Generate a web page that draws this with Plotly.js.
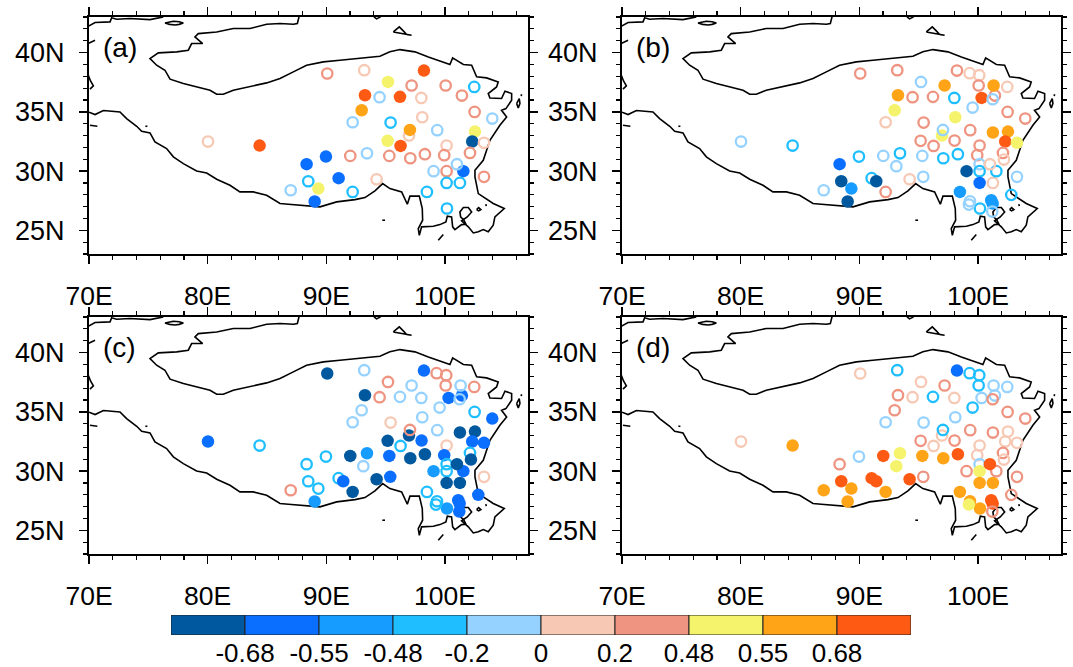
<!DOCTYPE html>
<html>
<head>
<meta charset="utf-8">
<script src="https://cdn.plot.ly/plotly-3.0.1.min.js"></script>
<style>html,body{margin:0;padding:0;background:#fff}</style>
</head>
<body>
<div id="chart" style="width:1073px;height:667px"></div>
<script>
const binEdges = [-0.68,-0.55,-0.48,-0.2,0,0.2,0.48,0.55,0.68];
const binLabels = ['-0.68','-0.55','-0.48','-0.2','0','0.2','0.48','0.55','0.68'];
const binColors = ['#00599E','#0A6EFF','#169CFF','#1EBEFF','#96D2FF','#F7C8B4','#EE9480','#F4F36B','#FFA317','#FF5A14'];

const stationLon = [80.03,84.38,88.34,88.48,87.0,89.33,89.02,89.97,91.04,91.43,92.22,92.02,93.43,93.12,94.24,92.22,92.98,93.26,93.2,90.08,94.49,95.2,96.21,95.42,95.17,95.31,95.39,96.26,96.97,97.05,97.08,97.19,98.01,98.09,98.03,98.31,98.23,99.35,99.04,98.48,99.3,100.11,100.06,100.31,99.55,100.14,99.94,100.14,100.14,100.14,101.26,101.55,101.01,101.43,101.24,101.32,102.47,102.5,103.99,102.53,101.26,102.3,103.29,102.11,102.19,103.29,102.81,100.17,99.33,99.24,101.12,101.24,101.21];
const stationLat = [32.49,32.15,30.58,29.14,28.38,28.52,27.43,31.22,29.4,29.14,28.24,31.28,31.5,30.41,29.31,34.12,35.13,36.4,38.51,38.23,36.23,37.52,36.26,34.09,32.55,31.28,29.51,32.12,33.0,33.47,31.08,37.22,36.17,34.54,32.57,31.42,38.48,33.45,29.99,28.24,38.26,38.09,37.22,36.17,35.36,32.15,31.34,30.58,29.99,29.0,29.0,29.99,30.58,36.37,36.06,37.22,37.1,34.99,34.43,33.33,33.25,32.49,32.38,31.53,30.97,29.51,27.99,26.84,27.45,27.17,27.54,27.26,26.58];

const corrA = [0.1,0.75,-0.6,-0.3,-0.1,0.5,-0.6,-0.6,-0.6,null,-0.3,0.3,-0.1,null,0.1,-0.1,0.6,0.75,0.1,0.3,-0.1,0.5,0.75,-0.3,0.5,0.3,null,0.75,0.1,0.6,0.3,0.3,0.1,0.1,null,0.3,0.75,-0.1,-0.1,-0.3,null,null,0.3,null,null,0.1,0.3,null,0.3,-0.3,-0.3,-0.6,-0.1,0.3,null,null,-0.3,0.3,-0.1,0.5,null,-0.75,0.1,0.3,null,0.3,null,-0.3,null,null,null,null,null];
const corrB = [-0.1,-0.3,-0.6,-0.75,-0.1,-0.5,-0.75,-0.3,-0.3,-0.75,0.3,-0.1,-0.3,-0.1,0.1,0.1,0.5,0.6,0.3,0.3,0.3,-0.1,0.3,0.3,0.3,-0.1,-0.1,0.3,0.5,-0.1,-0.3,0.6,-0.3,0.5,0.3,-0.3,0.3,0.3,-0.75,-0.5,0.1,0.1,0.3,0.75,-0.1,0.3,0.3,-0.1,-0.3,-0.6,0.1,-0.3,0.1,0.3,-0.1,0.6,0.1,0.3,0.3,0.6,0.6,0.75,0.5,0.3,0.1,-0.1,-0.3,-0.3,-0.1,-0.1,-0.5,-0.5,-0.1];
const corrC = [-0.6,-0.3,-0.3,-0.3,0.3,-0.3,-0.5,-0.3,-0.3,-0.6,-0.75,-0.75,-0.5,-0.1,-0.75,-0.1,-0.1,-0.75,-0.1,-0.75,0.3,0.3,-0.1,0.1,-0.75,-0.6,-0.6,-0.3,-0.75,0.3,-0.75,-0.1,-0.1,-0.1,-0.6,-0.75,-0.6,-0.1,-0.5,-0.3,0.3,0.3,0.3,-0.6,-0.1,0.1,-0.6,-0.3,-0.3,-0.75,-0.75,-0.6,-0.75,-0.6,-0.1,-0.1,0.3,-0.3,-0.6,-0.75,-0.75,-0.6,-0.6,-0.3,-0.75,0.1,-0.6,-0.5,-0.3,-0.3,-0.6,-0.6,-0.6];
const corrD = [0.1,0.6,0.3,0.75,0.6,0.6,0.6,-0.1,0.75,0.75,0.6,0.75,0.5,0.5,0.75,-0.1,0.3,0.3,-0.3,0.1,0.1,0.1,-0.3,-0.1,0.3,0.6,0.3,0.1,0.1,-0.3,0.6,0.3,0.1,-0.1,0.3,0.75,-0.6,0.3,0.3,0.6,-0.3,-0.3,-0.3,-0.1,-0.3,0.1,0.1,-0.1,0.5,0.6,0.6,0.3,0.75,-0.1,0.3,-0.1,-0.1,0.3,0.3,0.1,0.3,0.1,0.1,0.3,0.1,0.3,0.3,0.6,0.6,0.5,0.75,0.75,0.3];

const coastLon = [70.00,70.51,71.21,71.77,72.61,73.17,74.02,74.44,75.14,75.56,76.54,77.11,77.95,79.07,79.92,80.76,81.88,82.72,83.85,84.97,86.10,86.80,87.78,88.90,89.47,90.87,92.42,93.26,94.10,94.75,95.36,96.35,96.83,97.05,97.84,98.09,98.12,97.75,97.84,98.03,99.02,99.58,100.08,100.20,100.56,100.65,100.84,101.40,101.77,101.60,101.32,101.26,101.55,101.97,102.25,101.88,101.40,101.97,102.39,102.81,103.23,103.65,104.07,104.21,105.00,104.07,102.81,102.53,102.53,103.23,103.79,104.63,105.20,104.77,105.14,105.62,105.62,105.06,104.77,103.79,103.65,104.35,104.49,103.51,102.67,102.25,101.55,100.65,100.42,98.60,97.47,96.21,95.36,94.52,92.84,91.15,89.75,88.34,87.22,86.10,84.97,83.57,82.16,81.32,80.76,80.20,79.35,77.95,76.83,76.40,75.70,75.14,75.84,77.39,78.37,78.65,79.58,78.93,79.21,80.76,82.16,83.57,84.97,86.10,87.22,87.56,87.70,null,
69.94,70.51,71.77,71.91,72.33,73.45,75.14,76.26,null,69.94,70.51,null,69.94,70.14,70.37,70.08,null,76.40,76.80,77.11,77.60,77.95,77.60,77.25,76.80,76.40,null,70.08,70.70,null,74.75,74.92,null,94.02,94.24,94.58,null,95.65,96.15,96.49,96.77,97.19,96.49,95.93,95.65,null,106.04,106.26,106.32,106.18,106.04,null,106.46,106.43,null,102.67,102.84,103.03,102.84,102.67,null,103.45,103.48,null,94.72,94.95,null,99.44,99.64,99.86];
const coastLat = [34.96,34.77,35.11,35.05,34.99,34.43,33.78,33.36,33.22,32.46,31.90,31.20,30.63,30.01,29.84,29.31,28.80,28.24,28.24,27.96,27.26,27.20,27.12,27.03,26.98,27.40,27.59,27.76,28.33,28.94,28.52,28.24,27.20,27.88,27.88,26.84,25.85,25.15,24.58,25.29,25.34,25.48,25.71,26.19,26.13,25.29,25.06,25.48,25.51,25.85,26.13,26.55,26.92,26.92,26.55,26.13,25.79,25.29,24.78,24.87,25.06,24.87,25.43,26.13,26.84,27.26,28.10,29.51,30.07,30.91,32.60,33.87,34.57,35.13,35.27,35.98,36.54,36.74,36.12,36.17,36.54,37.10,37.52,37.86,37.95,38.93,38.99,39.55,38.99,39.63,40.06,40.25,40.06,39.69,39.49,39.35,39.21,38.93,38.37,37.81,37.44,37.16,36.82,36.48,36.48,36.82,37.05,37.38,37.75,38.51,38.93,39.49,39.97,40.06,40.20,40.76,40.76,41.32,41.60,41.74,42.03,42.03,42.39,42.45,42.39,42.45,43.01,null,
42.22,42.53,42.59,42.93,42.81,42.87,42.78,43.01,null,40.76,41.04,null,38.09,37.58,37.19,36.91,null,42.50,42.60,42.64,42.60,42.50,42.38,42.33,42.38,42.50,null,33.87,33.78,null,33.78,33.78,null,43.01,42.84,43.01,null,41.74,42.17,41.83,41.52,41.46,41.60,41.66,41.74,null,35.70,36.12,35.70,35.33,35.70,null,36.48,36.32,null,26.75,26.92,26.75,26.64,26.75,null,27.21,27.03,null,25.85,25.85,null,24.16,24.44,24.64];

const panelLabels = ['(a)','(b)','(c)','(d)'];
const panelCorr = [corrA,corrB,corrC,corrD];
const lonTicks = [70,80,90,100];
const lonText = ['70E','80E','90E','100E'];
const latTicks = [25,30,35,40];
const latText = ['25N','30N','35N','40N'];

const W = 1073, H = 667;
const FONT = '"Liberation Sans", Arial, sans-serif';
const panelBoxes = [[89,528,17,254],[622,1061,17,254],[89,528,317,554],[622,1061,317,554]];

function colorOf(v){ let i=0; for(const e of binEdges){ if(v>=e) i++; } return binColors[i]; }

const data = [], layout = {
  width:W, height:H, margin:{l:0,r:0,t:0,b:0}, paper_bgcolor:'#fff', plot_bgcolor:'#fff',
  showlegend:false, font:{family:FONT,color:'#000'}, annotations:[]
};

panelCorr.forEach((vals,k)=>{
  const n = k+1, xa = n===1?'x':'x'+n, ya = n===1?'y':'y'+n;
  const [l,r,t,b] = panelBoxes[k];
  const axBase = {showgrid:false, zeroline:false, showline:true, linewidth:2, linecolor:'#000',
    mirror:'allticks', ticks:'outside', ticklen:8, tickwidth:1.5, tickcolor:'#000'};
  layout['xaxis'+(n===1?'':n)] = Object.assign({},axBase,{
    domain:[l/W,r/W], range:[70,107], anchor:ya, tickmode:'array', tickvals:lonTicks, ticktext:lonText,
    tickfont:{family:FONT,size:26.5,color:'#000'}, ticklabelstandoff:9,
    minor:{dtick:2,tick0:70,ticks:'outside',ticklen:4,tickwidth:1.2,tickcolor:'#000',showgrid:false}
  });
  layout['yaxis'+(n===1?'':n)] = Object.assign({},axBase,{
    domain:[1-b/H,1-t/H], range:[23,43], anchor:xa, tickmode:'array', tickvals:latTicks, ticktext:latText,
    tickfont:{family:FONT,size:27,color:'#000'}, ticklabelstandoff:9,
    minor:{dtick:1,tick0:23,ticks:'outside',ticklen:4,tickwidth:1.2,tickcolor:'#000',showgrid:false}
  });
  data.push({type:'scatter',mode:'lines',x:coastLon,y:coastLat,xaxis:xa,yaxis:ya,
    line:{color:'#000',width:1.6},connectgaps:false,hoverinfo:'skip'});
  const x=[],y=[],c=[],s=[],sz=[],lw=[];
  vals.forEach((v,i)=>{
    if(v===null) return;
    const filled = Math.abs(v)>=0.48;
    x.push(stationLon[i]); y.push(stationLat[i]); c.push(colorOf(v));
    s.push(filled?'circle':'circle-open'); sz.push(filled?12.5:10.4); lw.push(filled?0:2.3);
  });
  data.push({type:'scatter',mode:'markers',x,y,xaxis:xa,yaxis:ya,cliponaxis:true,
    marker:{color:c,symbol:s,size:sz,opacity:1,line:{color:c,width:lw}}});
  layout.annotations.push({xref:xa,yref:ya,x:71.05,y:40.45,text:panelLabels[k],showarrow:false,
    xanchor:'left',yanchor:'middle',font:{family:FONT,size:28,color:'#000'}});
});

const barX = binColors.map((_,i)=>i+0.5);
data.push({type:'bar',x:barX,y:binColors.map(()=>1),width:1,xaxis:'x5',yaxis:'y5',cliponaxis:false,
  marker:{color:binColors,line:{color:'#222',width:1}},hoverinfo:'skip'});
layout.xaxis5 = {domain:[171/W,911/W],range:[0,10],anchor:'y5',showgrid:false,zeroline:false,showline:false,
  tickmode:'array',tickvals:binLabels.map((_,i)=>i+1),ticktext:binLabels,ticks:'',ticklabelstandoff:0,
  tickfont:{family:FONT,size:26,color:'#000'}};
layout.yaxis5 = {domain:[1-635/H,1-615/H],range:[0,1],anchor:'x5',visible:false};

Plotly.newPlot('chart',data,layout,{staticPlot:true,displayModeBar:false});
</script>
</body>
</html>
